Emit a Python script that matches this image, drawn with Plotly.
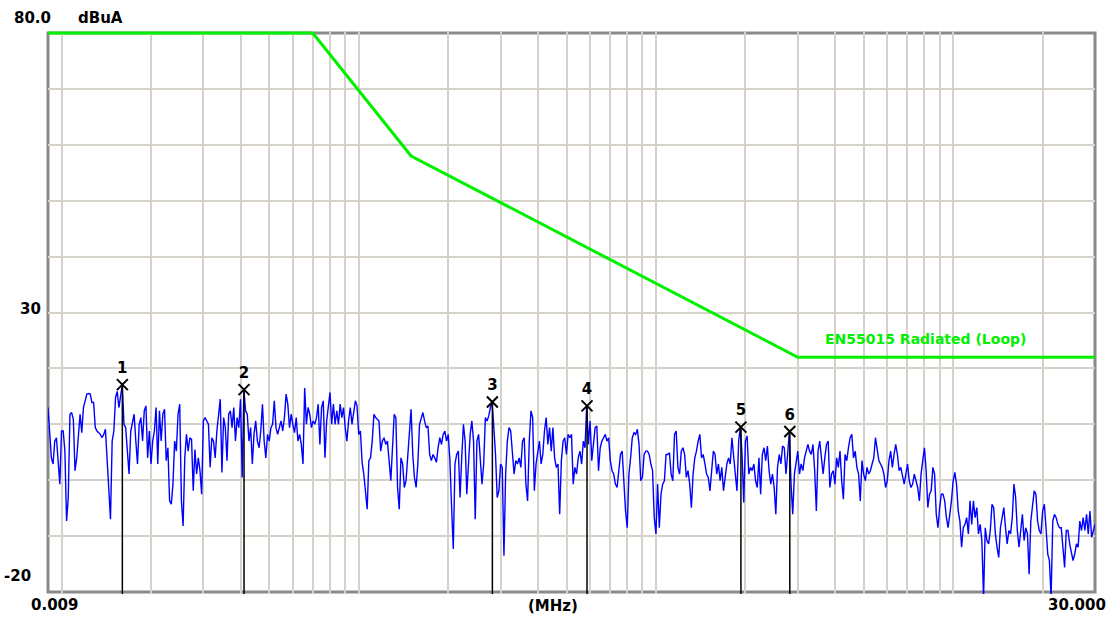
import numpy as np
import plotly.graph_objects as go

# ---------------- data ----------------
f_start, f_stop = 0.009, 30.0          # MHz, sweep range (log sweep)

# measured level, dBuA, first half of the sweep (0.009 MHz .. ~0.6 MHz)
level_lo = [
    13.0, 8.8, 4.0, 2.9, 7.0, 7.6, 2.3, -0.7, 8.8, 8.8,
    5.2, -7.3, -3.1, 11.8, 12.1, 10.9, 1.7, 4.0, 7.9, 11.8,
    8.5, 13.0, 14.2, 15.4, 15.5, 15.4, 13.9, 13.9, 9.4, 8.8,
    8.5, 8.2, 7.6, 8.2, 9.1, 4.0, -1.9, -7.0, 7.0, 8.8,
    14.8, 15.9, 13.0, 15.4, 17.1, 10.0, 9.4, 5.2, 1.1, 8.8,
    10.6, 11.8, 7.0, 2.9, 10.0, 11.2, 7.0, 12.4, 13.3, 4.0,
    8.8, 2.9, 7.0, 8.8, 13.0, 2.9, 12.4, 7.0, 11.8, 12.7,
    3.5, 5.8, -3.7, -4.3, -0.7, 7.0, 5.2, 11.8, 13.6, -3.7,
    -8.2, 4.0, 8.2, 5.2, 7.6, 7.3, -1.9, 5.5, 1.1, 4.0,
    1.7, -2.5, 10.6, 11.2, 10.6, 10.0, 2.3, 7.6, 7.0, 4.0,
    8.8, 11.8, 14.5, 1.4, 11.2, 9.4, 3.5, 11.8, 12.4, 9.4,
    13.0, 7.0, 11.2, 9.4, 14.5, 0.5, 16.2, 12.4, 11.8, 7.0,
    9.4, 2.9, 8.2, 10.6, 7.0, 5.8, 8.8, 13.6, 7.0, 4.0,
    8.2, 7.0, 9.4, 10.0, 14.2, 9.4, 8.2, 9.4, 10.6, 8.8,
    11.2, 15.4, 13.6, 9.4, 11.8, 10.0, 8.5, 11.2, 7.0, 8.2,
    6.4, 2.9, 16.5, 10.0, 13.0, 11.8, 9.4, 10.6, 10.0, 11.2,
    13.6, 6.4, 13.0, 14.2, 4.0, 10.6, 13.6, 15.7, 10.0, 13.6,
    10.0, 12.4, 10.0, 13.6, 11.2, 13.0, 9.4, 7.0, 10.6, 13.0,
    10.0, 12.4, 14.2, 13.3, 8.2, 8.8, 3.2, 1.1, -2.5, -5.2,
    3.5, 4.0, 7.0, 11.8, 11.2, 10.9, 10.6, 5.2, 7.0, 7.6,
    6.4, 7.0, 4.0, -0.1, 5.8, 11.8, 11.2, -1.3, -5.2, 4.0,
    2.9, -1.3, -0.1, 4.0, 8.2, 12.7, 4.6, 0.5, -1.3, 2.9,
    10.0, 11.2, 12.1, 10.6, 9.4, 9.7, 4.6, 3.5, 4.6, 4.0,
    3.2, 5.8, 7.6, 6.4, 8.2, 8.8, 7.0, 8.2, 3.5, -4.9,
    -12.3, 2.9, 4.6, 5.2, -3.1, 4.0, 10.0, 7.0, -2.5, 2.9,
    8.2, 10.6, 7.0, -7.0, 7.0, 8.2, 4.0, -0.7, 2.9, 11.2,
    10.6, 11.5, 13.0, 14.0, 9.4, 4.6, -3.1, -1.9, 2.9, 2.3,
    -13.5, 1.1, 7.0, 9.4, 8.8, 4.6, 1.1, 3.5, 2.9, 4.0,
    2.3, 7.0, 7.6, -0.7, -3.7, 7.0, 12.4, 11.2, -1.9, 2.9,
    4.6, 7.0, 2.9, 4.6, 8.8, 11.2, 6.4, 9.4, 5.2, 9.4,
    4.0, 2.3, 2.9, -6.1, 3.5, 7.0, 7.6, 4.6, 8.2, 7.6,
]

# measured level, dBuA, second half of the sweep (~0.6 MHz .. 30 MHz)
level_hi = [
    8.2, -0.7, 2.3, 1.1, 4.0, 5.2, 2.9, 7.0, 5.8, 13.3,
    6.4, 10.6, 3.5, 7.0, 9.4, 9.7, 1.7, 5.8, 7.0, 7.6,
    8.2, 7.0, 7.6, 3.5, 1.7, 1.1, -0.7, -1.3, 2.3, 4.6,
    5.2, -0.7, -5.5, -8.5, 1.1, 4.0, 7.6, 8.5, 8.2, 9.1,
    6.4, -0.1, 0.5, 4.6, 5.2, 5.2, 4.6, 2.9, 1.7, -6.7,
    -9.6, -0.7, -8.5, -2.5, -0.7, -0.1, 4.6, 4.6, 4.9, 1.1,
    -0.1, 8.2, 8.8, 2.3, 1.1, 5.2, 5.8, 4.6, 0.5, 1.7,
    -0.7, -4.9, 1.1, 4.0, 5.2, 7.0, 8.2, 4.0, 4.6, 2.9,
    1.1, 0.5, -1.9, 1.7, 5.2, 4.6, 1.1, 2.9, -0.1, 2.3,
    -1.9, 0.5, 2.9, 4.0, 2.9, 7.6, 3.5, 1.1, -1.9, 7.0,
    9.5, 4.6, -4.0, 7.0, 7.9, 1.1, 2.3, 1.7, 2.9, -0.1,
    -1.3, 4.0, -2.5, 4.6, 5.8, 3.5, 6.1, 1.7, -0.7, 1.1,
    -1.3, -6.1, 2.3, 4.6, 2.9, 6.1, 5.8, 1.1, 4.6, 8.7,
    -0.7, -6.1, 1.1, 3.5, 5.2, 1.1, 2.9, 1.7, 4.0, 5.2,
    6.4, 5.2, 4.6, 6.4, 1.7, -5.5, 5.2, 7.0, 3.5, 1.1,
    4.0, 6.4, 7.0, -1.3, 1.1, 1.7, -0.7, 4.0, 2.3, 5.2,
    -0.1, -3.4, 4.6, 3.5, 5.8, 7.6, 8.2, 4.0, 5.2, 2.3,
    1.1, -3.7, 3.5, 1.1, -0.1, 2.3, 1.1, 1.7, 2.9, 4.0,
    7.6, 5.2, 3.5, 2.9, 2.3, 1.1, -1.3, -0.1, 3.5, 5.2,
    2.3, 4.6, 6.4, 4.6, 1.7, 2.3, 0.5, -0.7, 1.1, 2.9,
    -0.1, -1.3, -0.7, 1.1, -0.1, -1.3, -3.7, 1.1, 3.5, 5.8,
    1.7, -4.9, -2.5, -1.9, 2.3, 1.1, -6.1, -8.5, -4.9, -2.5,
    -2.5, -3.7, -6.7, -8.5, -6.1, -3.7, -0.1, 1.4, -0.7, -5.5,
    -7.3, -12.0, -8.5, -7.9, -6.7, -9.6, -3.7, -7.9, -3.7, -6.7,
    -4.9, -9.6, -7.9, -10.8, -21.0, -8.5, -10.8, -11.4, -9.0, -4.3,
    -4.9, -9.6, -12.0, -13.8, -8.5, -6.7, -4.9, -8.5, -11.4, -9.0,
    -9.6, -6.7, -0.7, -3.1, -9.0, -12.0, -8.5, -6.1, -10.8, -8.5,
    -9.6, -16.8, -7.3, -4.9, -1.9, -2.5, -7.3, -9.0, -9.6, -5.5,
    -4.3, -8.5, -13.2, -14.4, -21.0, -7.3, -6.1, -6.7, -7.9, -8.5,
    -8.5, -12.0, -15.6, -9.0, -9.0, -11.4, -13.2, -14.4, -13.2, -11.4,
    -12.0, -7.3, -9.0, -6.7, -9.0, -6.1, -9.6, -5.5, -10.2, -9.0,
    -7.9,
]

levels = level_lo + level_hi
freqs = np.geomspace(f_start, f_stop, len(levels))

# EN55015 radiated (loop) limit
limit_name = "EN55015 Radiated (Loop)"
limit_freq = [0.009, 0.07, 0.15, 3.0, 30.0]
limit_level = [80, 80, 58, 22, 22]

# peak markers
marker_id = ["1", "2", "3", "4", "5", "6"]
marker_freq = [0.01601, 0.0411, 0.2815, 0.586, 1.931, 2.82]
marker_level = [17.1, 16.2, 14.0, 13.3, 9.5, 8.7]

y_min, y_max = -20, 80
y_unit = "dBuA"
x_unit = "(MHz)"
y_labels = ["80.0", "30", "-20"]
x_labels = ["0.009", "30.000"]

grid_freqs = [m * 10.0 ** e for e in (-2, -1, 0, 1) for m in range(1, 10) if m * 10.0 ** e < f_stop]
grid_levels = list(range(y_min + 10, y_max, 10))

# ---------------- figure ----------------
FONT = "DejaVu Sans"
GRID = "#d6d2ca"
GREEN = "#00f000"

fig = go.Figure()

fig.add_trace(go.Scatter(
    x=freqs, y=levels, mode="lines",
    line=dict(color="#0000ff", width=1.4),
    hoverinfo="skip", showlegend=False,
))

# marker stems
stem_x, stem_y = [], []
for f, l in zip(marker_freq, marker_level):
    stem_x += [f, f, None]
    stem_y += [y_min - 1, l, None]
fig.add_trace(go.Scatter(
    x=stem_x, y=stem_y, mode="lines",
    line=dict(color="#000000", width=1.5),
    hoverinfo="skip", showlegend=False,
))

fig.add_trace(go.Scatter(
    x=limit_freq, y=limit_level, mode="lines",
    line=dict(color=GREEN, width=3),
    hoverinfo="skip", showlegend=False,
))

fig.add_trace(go.Scatter(
    x=marker_freq, y=marker_level, mode="markers+text",
    marker=dict(symbol="x-thin", size=11, line=dict(color="#000000", width=2), color="#000000"),
    text=[f"<b>{m}</b>" for m in marker_id], textposition="top center",
    textfont=dict(family=FONT, size=15, color="#000000"),
    hoverinfo="skip", showlegend=False, cliponaxis=False,
))

pad = 2 * (y_max - y_min) / 559.0
fig.update_layout(
    width=1112, height=619,
    margin=dict(l=48, r=17, t=31, b=25),
    paper_bgcolor="white", plot_bgcolor="white",
    xaxis=dict(
        type="log", range=[np.log10(f_start), np.log10(f_stop)],
        tickvals=grid_freqs, showticklabels=False, ticks="",
        showgrid=True, gridcolor=GRID, gridwidth=1.5, zeroline=False, showline=False,
    ),
    yaxis=dict(
        range=[y_min - pad, y_max + pad],
        tickvals=grid_levels, showticklabels=False, ticks="",
        showgrid=True, gridcolor=GRID, gridwidth=1.5, zeroline=False, showline=False,
    ),
    shapes=[dict(
        type="rect", xref="paper", yref="y", x0=0, x1=1, y0=y_min, y1=y_max,
        line=dict(color="#8a8a8a", width=3), layer="below",
    )],
)

txt = dict(family=FONT, size=15, color="#000000")
ann = [
    dict(text=f"<b>{y_labels[0]}</b>", xref="paper", x=0, xanchor="right", xshift=5,
         yref="y", y=y_max, yanchor="middle", yshift=15),
    dict(text=f"<b>{y_unit}</b>", xref="paper", x=0, xanchor="left", xshift=28,
         yref="y", y=y_max, yanchor="middle", yshift=15),
    dict(text=f"<b>{y_labels[1]}</b>", xref="paper", x=0, xanchor="right", xshift=-5,
         yref="y", y=30, yanchor="middle", yshift=4),
    dict(text=f"<b>{y_labels[2]}</b>", xref="paper", x=0, xanchor="right", xshift=-15,
         yref="y", y=y_min, yanchor="middle", yshift=16),
    dict(text=f"<b>{x_labels[0]}</b>", xref="paper", x=0, xanchor="center", xshift=6,
         yref="y", y=y_min, yanchor="middle", yshift=-13),
    dict(text=f"<b>{x_unit}</b>", xref="paper", x=(553 - 48) / 1047, xanchor="center",
         yref="y", y=y_min, yanchor="middle", yshift=-14),
    dict(text=f"<b>{x_labels[1]}</b>", xref="paper", x=1, xanchor="center", xshift=-18,
         yref="y", y=y_min, yanchor="middle", yshift=-13),
]
for a in ann:
    a.update(showarrow=False, font=txt)
    fig.add_annotation(**a)

fig.add_annotation(
    text=f"<b>{limit_name}</b>", showarrow=False,
    xref="x", x=np.log10(3.66), xanchor="left",
    yref="y", y=25.3, yanchor="middle",
    font=dict(family=FONT, size=14, color=GREEN),
)

fig.write_html(
    "out.html",
    config={"displayModeBar": False},
    post_script="document.body.style.margin='0px';document.body.style.overflow='hidden';",
)
